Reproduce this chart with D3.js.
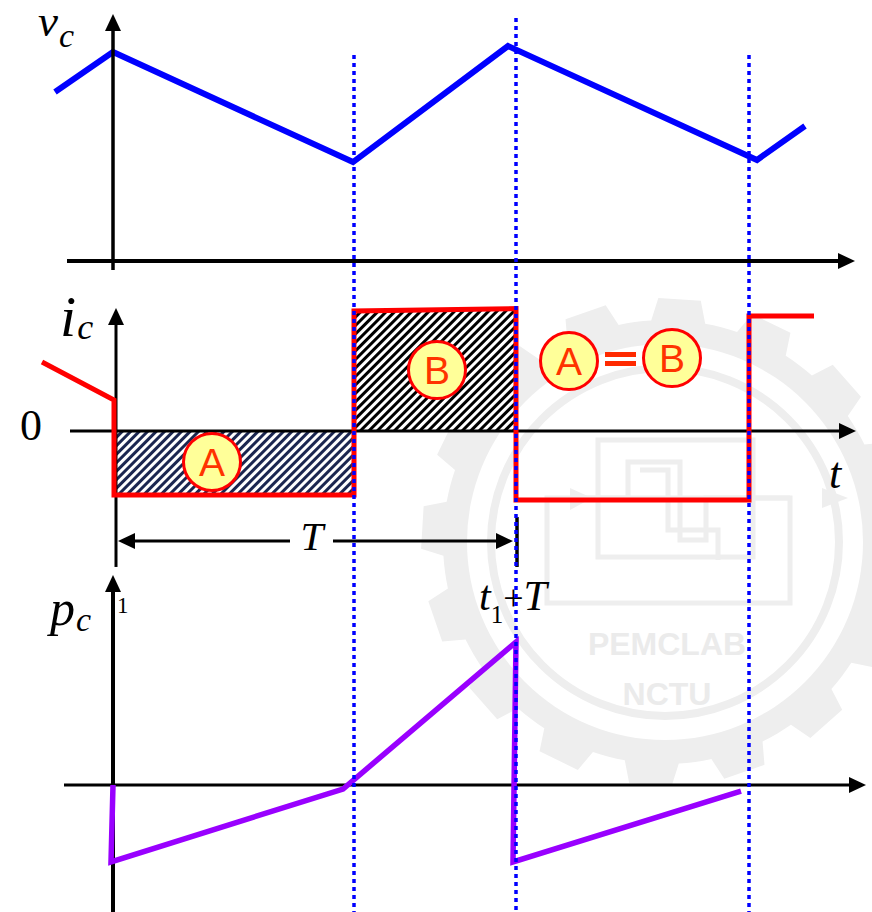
<!DOCTYPE html>
<html>
<head>
<meta charset="utf-8">
<script src="https://cdn.jsdelivr.net/npm/d3@7"></script>
<style>
  html, body { margin: 0; padding: 0; background: #ffffff; }
  svg { display: block; }
</style>
</head>
<body>
<svg id="chart" width="872" height="912"></svg>
<script>
// Time is measured in switching periods: t1 = 0, t1 + T = 1.

// Capacitor voltage v_c (arbitrary units, 0 on the time axis)
const vcTime  = [-0.1525, -0.0075, 0.5925, 0.98, 1.6025, 1.7225];
const vcValue = [7.86, 9.72, 4.60, 10.0, 4.70, 6.28];

// Capacitor current i_c (arbitrary units)
const icTime  = [-0.185, -0.005, -0.005, 0.595, 0.595, 1.0, 1.0, 1.5825, 1.5825, 1.745];
const icValue = [0.575, 0.258, -0.533, -0.533, 1.0, 1.02, -0.575, -0.575, 0.958, 0.958];

// Capacitor power p_c (arbitrary units)
const pcTime  = [-0.0075, -0.0125, 0.5675, 1.0, 0.9925, 1.5625];
const pcValue = [0, -0.538, -0.028, 1.0, -0.538, -0.042];

// Switching instants (dotted guides) and their upper ends on the v_c scale
const switchTimes = [0.595, 1.0, 1.5825];
const switchTop   = [9.58, 11.3, 9.58];

// Charge areas under i_c
const areaA = { t: [-0.005, 0.595], i: [0, -0.533] };
const areaBTop = [1.0, 1.02];

// Area labels: [letter, t, i]
const areaLabels = [["A", 0.24, -0.258], ["B", 0.8025, 0.508]];
const equalityLabels = [["A", 1.1325, 0.583], ["B", 1.39, 0.608]];

// Scales
const x  = d3.scaleLinear().domain([0, 1]).range([116, 516]);
const yV = d3.scaleLinear().domain([0, 10]).range([261, 46]);
const yI = d3.scaleLinear().domain([0, 1]).range([431, 311]);
const yP = d3.scaleLinear().domain([0, 1]).range([785, 642]);

const svg = d3.select("#chart");
const defs = svg.append("defs");

function hatch(id, color) {
  const p = defs.append("pattern")
    .attr("id", id)
    .attr("patternUnits", "userSpaceOnUse")
    .attr("width", 6).attr("height", 6)
    .attr("patternTransform", "rotate(45)");
  p.append("rect").attr("width", 6).attr("height", 6).attr("fill", "#ffffff");
  p.append("rect").attr("width", 3).attr("height", 6).attr("fill", color);
}
hatch("hatchA", "#1b2650");
hatch("hatchB", "#000000");

// ---------- faint lab emblem in the background ----------
const wmColor = "#eeeeee";
const wm = svg.append("g").attr("fill", wmColor).attr("stroke", "none");
const gcx = 665, gcy = 542;
(function gear() {
  const N = 16, rIn = 222, rOut = 244, hb = 7 * Math.PI / 180, ht = 5 * Math.PI / 180;
  const pts = [];
  for (let k = 0; k < N; k++) {
    const a = k * 2 * Math.PI / N + 0.06;
    pts.push([a - hb, rIn], [a - ht, rOut], [a + ht, rOut], [a + hb, rIn]);
    const next = (k + 1) * 2 * Math.PI / N + 0.06;
    for (let s = 1; s < 4; s++) {
      const aa = a + hb + (next - hb - a - hb) * s / 4;
      pts.push([aa, rIn]);
    }
  }
  const radial = d3.lineRadial().angle(d => d[0]).radius(d => d[1]).curve(d3.curveLinearClosed);
  wm.append("path").attr("transform", `translate(${gcx},${gcy})`).attr("d", radial(pts));
  wm.append("circle").attr("cx", gcx).attr("cy", gcy).attr("r", 198).attr("fill", "#ffffff");
  wm.append("circle").attr("cx", gcx).attr("cy", gcy).attr("r", 174)
    .attr("fill", "none").attr("stroke", wmColor).attr("stroke-width", 8);
})();
const wmLine = svg.append("g").attr("fill", "none").attr("stroke", wmColor).attr("stroke-width", 5);
wmLine.append("rect").attr("x", 598).attr("y", 440).attr("width", 155).attr("height", 117);
wmLine.append("rect").attr("x", 547).attr("y", 498).attr("width", 243).attr("height", 105);
wmLine.append("path").attr("d", "M575,498 H628 V462 H680 V540 H706 V498 H790");
wmLine.append("path").attr("d", "M640,470 H668 V530 H718 V560");
svg.append("path").attr("fill", wmColor).attr("d", "M822,488 L848,498 L822,508 Z");
svg.append("path").attr("fill", wmColor).attr("d", "M570,488 L592,498 L570,510 Z");
svg.append("text").attr("x", 667).attr("y", 655).attr("text-anchor", "middle")
  .attr("font-family", "'Liberation Sans', Arial, sans-serif").attr("font-weight", "bold")
  .attr("font-size", 32).attr("fill", "#ebebeb").text("PEMCLAB");
svg.append("text").attr("x", 667).attr("y", 705).attr("text-anchor", "middle")
  .attr("font-family", "'Liberation Sans', Arial, sans-serif").attr("font-weight", "bold")
  .attr("font-size", 32).attr("fill", "#ebebeb").text("NCTU");

// ---------- helpers ----------
function arrowLine(g, x1, y1, x2, y2, width, head) {
  const dx = x2 - x1, dy = y2 - y1, len = Math.hypot(dx, dy);
  const ux = dx / len, uy = dy / len;
  const L = head ? head[0] : 17, W = head ? head[1] : 8;
  const bx = x2 - ux * L, by = y2 - uy * L;
  g.append("line").attr("x1", x1).attr("y1", y1).attr("x2", bx + ux).attr("y2", by + uy)
    .attr("stroke", "#000").attr("stroke-width", width);
  g.append("path").attr("fill", "#000")
    .attr("d", `M${x2},${y2} L${bx - uy * W},${by + ux * W} L${bx + uy * W},${by - ux * W} Z`);
}

const serif = "'Liberation Serif', 'Times New Roman', serif";
const sans = "'Liberation Sans', Arial, sans-serif";

function mathLabel(xp, yp, main, mainSize, sub, subSize, subDx, subDy) {
  const t = svg.append("text").attr("x", xp).attr("y", yp)
    .attr("font-family", serif).attr("font-style", "italic").attr("fill", "#000");
  t.append("tspan").attr("font-size", mainSize).text(main);
  if (sub) t.append("tspan").attr("font-size", subSize).attr("dx", subDx).attr("dy", subDy).text(sub);
}

// ---------- hatched charge areas ----------
svg.append("rect")
  .attr("x", x(areaA.t[0])).attr("y", yI(areaA.i[0]))
  .attr("width", x(areaA.t[1]) - x(areaA.t[0]))
  .attr("height", yI(areaA.i[1]) - yI(areaA.i[0]))
  .attr("fill", "url(#hatchA)");
const bPoly = [[switchTimes[0], 0], [switchTimes[0], areaBTop[0]], [switchTimes[1], areaBTop[1]], [switchTimes[1], 0]];
svg.append("path")
  .attr("d", "M" + bPoly.map(d => `${x(d[0])},${yI(d[1])}`).join("L") + "Z")
  .attr("fill", "url(#hatchB)");

// ---------- v_c panel ----------
const lineV = d3.line().x((d, i) => x(vcTime[i])).y(d => yV(d));
svg.append("path").attr("d", lineV(vcValue))
  .attr("fill", "none").attr("stroke", "#0000ff").attr("stroke-width", 6)
  .attr("stroke-linejoin", "miter");
const axV = svg.append("g");
arrowLine(axV, x(-0.1225), yV(0), x(1.8475), yV(0), 4);
arrowLine(axV, x(-0.0075), yV(-0.42), x(-0.0075), yV(11.49), 3.5);
mathLabel(38, 36, "v", 45, "c", 34, 1, 11);

// ---------- i_c panel ----------
const axI = svg.append("g");
arrowLine(axI, x(-0.115), yI(0), x(1.85), yI(0), 3);
arrowLine(axI, x(0), yI(-1.133), x(0), yI(1.025), 3);
const lineI = d3.line().x((d, i) => x(icTime[i])).y(d => yI(d));
svg.append("path").attr("d", lineI(icValue))
  .attr("fill", "none").attr("stroke", "#ff0000").attr("stroke-width", 5)
  .attr("stroke-linejoin", "miter");
mathLabel(60, 336, "i", 58, "c", 36, 1, 3);
svg.append("text").attr("x", 20).attr("y", 440).attr("font-family", serif)
  .attr("font-size", 44).attr("fill", "#000").text("0");
svg.append("text").attr("x", 829).attr("y", 488).attr("font-family", serif)
  .attr("font-style", "italic").attr("font-size", 44).attr("fill", "#000").text("t");

// Period dimension T
const yDim = yI(-0.917);
const dim = svg.append("g");
arrowLine(dim, x(0.435), yDim, x(0.005), yDim, 3, [17, 8]);
arrowLine(dim, x(0.5425), yDim, x(0.9925), yDim, 3, [17, 8]);
dim.append("line").attr("x1", x(1.0025)).attr("x2", x(1.0025))
  .attr("y1", yI(-0.717)).attr("y2", yI(-1.133)).attr("stroke", "#000").attr("stroke-width", 3.5);
svg.append("text").attr("x", x(0.49)).attr("y", yDim + 9).attr("text-anchor", "middle")
  .attr("font-family", serif).attr("font-style", "italic").attr("font-size", 41).text("T");

// t1 + T
const lab = svg.append("text").attr("x", 479).attr("y", 610).attr("font-family", serif).attr("fill", "#000");
lab.append("tspan").attr("font-style", "italic").attr("font-size", 42).text("t");
lab.append("tspan").attr("font-size", 25).attr("dy", 13).text("1");
lab.append("tspan").attr("font-size", 36).attr("dy", -13).text("+");
lab.append("tspan").attr("font-style", "italic").attr("font-size", 42).text("T");

// ---------- p_c panel ----------
svg.append("text").attr("x", 117).attr("y", 613).attr("font-family", serif)
  .attr("font-size", 23).attr("fill", "#000").text("1");
const axP = svg.append("g");
arrowLine(axP, x(-0.13), yP(0), x(1.875), yP(0), 3);
arrowLine(axP, x(-0.0075), yP(-0.888), x(-0.0075), yP(1.469), 4);
const lineP = d3.line().x((d, i) => x(pcTime[i])).y(d => yP(d));
svg.append("path").attr("d", lineP(pcValue))
  .attr("fill", "none").attr("stroke", "#9900ff").attr("stroke-width", 5.5)
  .attr("stroke-linejoin", "miter");
mathLabel(50, 625, "p", 50, "c", 34, 1, 6);

// ---------- area labels ----------
function badge(letter, t, i) {
  const g = svg.append("g").attr("transform", `translate(${x(t)},${yI(i)})`);
  g.append("circle").attr("r", 28.5).attr("fill", "#ffff99")
    .attr("stroke", "#ff0000").attr("stroke-width", 3);
  g.append("text").attr("text-anchor", "middle").attr("y", 14)
    .attr("font-family", sans).attr("font-size", 39).attr("fill", "#ff3300").text(letter);
}
areaLabels.forEach(d => badge(d[0], d[1], d[2]));
equalityLabels.forEach(d => badge(d[0], d[1], d[2]));
// equals sign between the two badges
const eqX0 = x(1.1325) + 36, eqX1 = x(1.39) - 36, eqY = yI(0.6);
[-7, 2].forEach(off => {
  svg.append("rect").attr("x", eqX0).attr("y", eqY + off).attr("width", eqX1 - eqX0).attr("height", 5)
    .attr("fill", "#ff2a00");
});

// ---------- dotted switching guides ----------
svg.append("g").selectAll("line").data(switchTimes).join("line")
  .attr("x1", d => x(d)).attr("x2", d => x(d))
  .attr("y1", (d, i) => yV(switchTop[i])).attr("y2", 912)
  .attr("stroke", "#0000ff").attr("stroke-width", 3.5)
  .attr("stroke-dasharray", "4,4");
</script>
</body>
</html>
